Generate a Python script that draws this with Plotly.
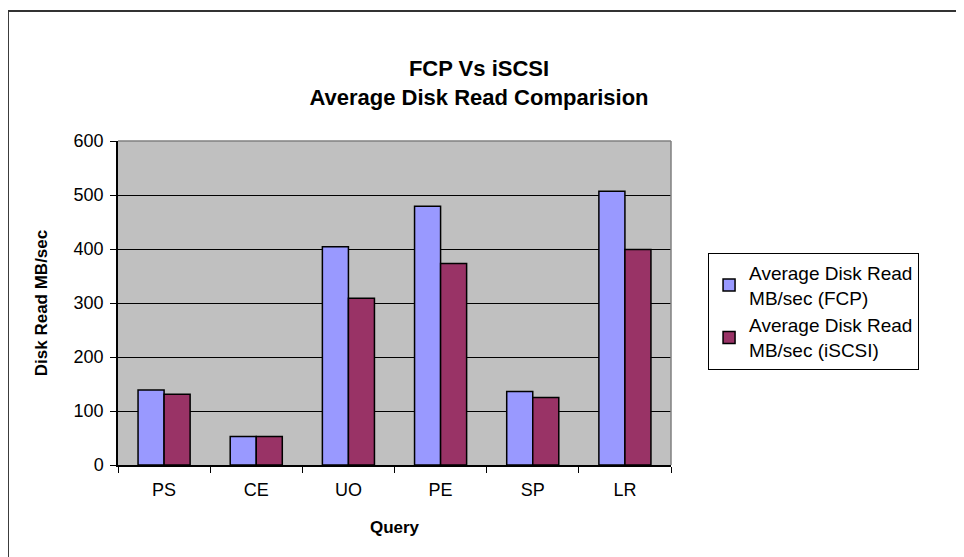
import plotly.graph_objects as go

queries = ["PS", "CE", "UO", "PE", "SP", "LR"]
fcp_read = [139, 53, 404, 479, 136, 507]
iscsi_read = [131, 53, 309, 373, 125, 399]
y_ticks = [0, 100, 200, 300, 400, 500, 600]

FONT = "Liberation Sans, Arial, sans-serif"

fig = go.Figure()
fig.add_trace(go.Bar(
    x=queries, y=fcp_read, name="Average Disk Read<br>MB/sec (FCP)",
    marker=dict(color="#9999FF", line=dict(color="#000000", width=1.5))
))
fig.add_trace(go.Bar(
    x=queries, y=iscsi_read, name="Average Disk Read<br>MB/sec (iSCSI)",
    marker=dict(color="#993366", line=dict(color="#000000", width=1.5))
))

# chart area frame (runs off the right and bottom of the picture)
fig.add_shape(type="rect", xref="paper", yref="paper",
              x0=-0.199, x1=1.56, y0=-0.32, y1=1.401,
              line=dict(color="#333333", width=2), layer="below")
# gray border on top and right of the plot area
fig.add_shape(type="line", xref="paper", yref="paper", x0=0, x1=1, y0=1, y1=1,
              line=dict(color="#808080", width=1.5))
fig.add_shape(type="line", xref="paper", yref="paper", x0=1, x1=1, y0=0, y1=1,
              line=dict(color="#808080", width=1.5))

fig.update_layout(
    width=964, height=557,
    margin=dict(l=110, r=301, t=133, b=100, autoexpand=False),
    paper_bgcolor="white", plot_bgcolor="#C0C0C0",
    font=dict(family=FONT, size=18, color="#000000"),
    title=dict(text="FCP Vs iSCSI<br>Average Disk Read Comparision",
               x=471 / 964, xanchor="center", y=1 - 68 / 557, yanchor="middle",
               font=dict(size=22, family=FONT, weight="bold")),
    barmode="group", bargap=0.435, bargroupgap=0,
    showlegend=True,
    legend=dict(x=1.067, y=0.655, xanchor="left", yanchor="top",
                bordercolor="#000000", borderwidth=1, bgcolor="white",
                font=dict(size=19), tracegroupgap=0, itemwidth=30),
    xaxis=dict(title=dict(text="Query", font=dict(size=17, weight="bold"), standoff=22),
               automargin=False,
               showline=True, linecolor="#000000", linewidth=1.5,
               ticks="outside", tickson="boundaries", ticklen=6, tickcolor="#000000",
               ticklabelstandoff=8,
               tickfont=dict(size=18), showgrid=False),
    yaxis=dict(title=dict(text="Disk Read MB/sec", font=dict(size=17, weight="bold"), standoff=22),
               automargin=False,
               range=[0, 600], tickvals=y_ticks,
               showline=True, linecolor="#000000", linewidth=1.5,
               ticks="outside", ticklen=6, tickcolor="#000000",
               ticklabelstandoff=3,
               showgrid=True, gridcolor="#000000", gridwidth=1, zeroline=False,
               tickfont=dict(size=18)),
)

fig.write_html("out.html")
